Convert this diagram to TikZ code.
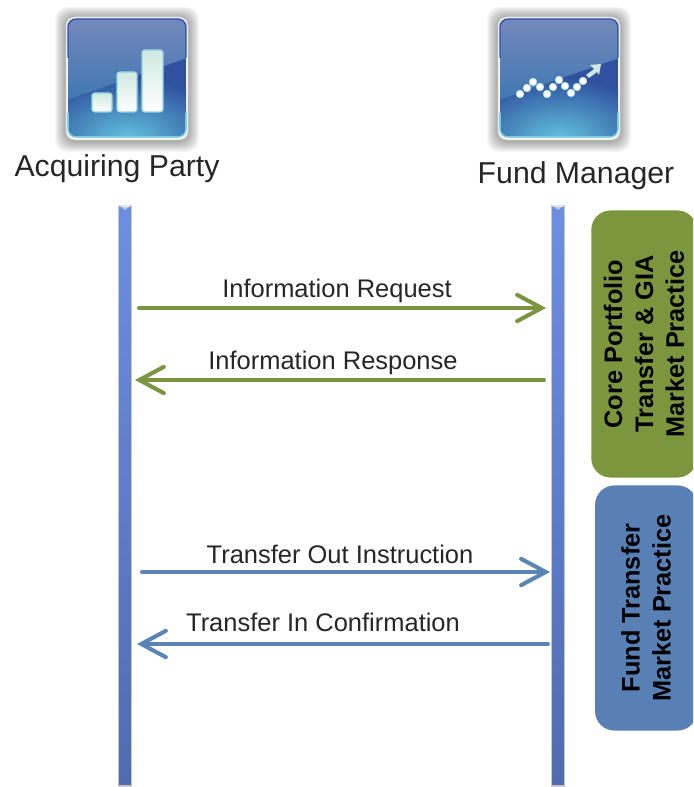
\documentclass[tikz,border=0pt]{standalone}
\usepackage{fontspec}
\setmainfont{Liberation Sans}
\usetikzlibrary{arrows.meta}
\usetikzlibrary{positioning}
\definecolor{msgGreen}{HTML}{7A9440}
\definecolor{msgBlue}{HTML}{5A84B6}
\definecolor{boxGreen}{HTML}{7C963E}
\definecolor{boxBlue}{HTML}{5880B4}
\definecolor{lineTop}{HTML}{6C8EE4}
\definecolor{lineBot}{HTML}{4F6CB0}
\definecolor{iconDark}{HTML}{2F519F}
\definecolor{iconMid}{HTML}{3F78B0}
\definecolor{iconTop}{HTML}{7488BC}
\definecolor{iconGlow}{HTML}{62C2DC}
\definecolor{barTop}{HTML}{CFE8E0}

\begin{document}
\begin{tikzpicture}[x=0.02cm,y=-0.02cm]
  \tikzset{lifeline/.style = {shape=rectangle,draw=gray!45,line width=0.7pt,minimum width=7.4pt,minimum height=330pt,inner sep=0pt,top color=lineTop,bottom color=lineBot}}
  \tikzset{title/.style = {text=black!85,font=\fontsize{17.2}{20}\selectfont,inner sep=0pt}}
  \tikzset{msglabel/.style = {text=black!85,font=\fontsize{14.5}{17}\selectfont,inner sep=0pt}}
  \tikzset{practice/.style = {shape=rectangle,rounded corners=11pt,rotate=90,align=center,inner sep=0pt,text=black,font=\bfseries\fontsize{14.4}{17.6}\selectfont}}
  \tikzset{bar/.style = {rounded corners=1.5pt,draw=iconGlow!70,line width=0.6pt,top color=barTop,bottom color=white}}
  \tikzset{dot/.style = {shape=circle,fill=white,draw=iconGlow!60,line width=0.3pt,minimum size=4.4pt,inner sep=0pt}}
  \tikzset{greenmsg/.style = {draw=msgGreen,line width=2.3pt,line cap=round,-{Straight Barb[length=14pt,width=15pt,line cap=round]}}}
  \tikzset{bluemsg/.style = {draw=msgBlue,line width=2.3pt,line cap=round,-{Straight Barb[length=14pt,width=15pt,line cap=round]}}}
  \tikzset{
    iconbase/.pic = {
      \foreach \grow in {1,2,...,12}
        \fill[black,opacity=0.035,rounded corners=7pt] (-60-\grow,-60-\grow+1) rectangle (60+\grow,60+\grow+2);
      \fill[white,draw=gray!40,line width=0.4pt,rounded corners=5pt] (-61,-61) rectangle (61,62);
      \begin{scope}
        \clip[rounded corners=4.5pt] (-59,-59) rectangle (59,59);
        \fill[iconDark] (-60,-60) rectangle (60,60);
        \shade[inner color=iconGlow,outer color=iconDark] (0,60) ellipse (100 and 60);
        \shade[top color=iconTop,bottom color=iconMid] (-60,-60) -- (60,-60) -- (60,-20) -- (-60,22) -- cycle;
      \end{scope}
      \draw[iconDark,line width=0.8pt,rounded corners=4.5pt] (-59,-20) -- (-59,-59) -- (59,-59) -- (59,-20);
      \draw[iconGlow!80!white,line width=0.9pt,rounded corners=4.5pt] (-59,35) -- (-59,59) -- (59,59) -- (59,35);
    }
  }
  \clip (0,0) rectangle (693,787);

  % actors
  \pic at (127,78) {iconbase};
  \pic at (559,78) {iconbase};
  \draw[bar] (92,93) rectangle (112,112);
  \draw[bar] (117,72) rectangle (137,112);
  \draw[bar] (142,50) rectangle (163,112);
  \foreach \name/\px/\py in {a/520/94,b/527/88,c/533/82,d/540/87,e/547/94,f/553/87,g/559/80,h/565/86,i/571/93,j/577/87,k/583/81}
    \node[dot] (\name) at (\px,\py) {};
  \fill[barTop] (601,64) -- (590,65) -- (594,69) -- (586,75) -- (589,78) -- (597,72) -- (599,75) -- cycle;

  \node[title] (AP) at (117,169) {Acquiring Party};
  \node[title] (FM) at (576,176) {Fund Manager};

  % lifelines
  \node[lifeline] (L) at (125,496) {};
  \node[lifeline] (R) at (558,496) {};
  \fill[white,opacity=0.55] (119,205) -- (131,205) -- (125,210) -- cycle;
  \fill[white,opacity=0.55] (552,205) -- (564,205) -- (558,210) -- cycle;

  % message ends
  \coordinate (IRa) at (139,308);
  \coordinate (IRb) at (546,308);
  \coordinate (ISa) at (544,380);
  \coordinate (ISb) at (135,380);
  \coordinate (TOa) at (142,572);
  \coordinate (TOb) at (550,572);
  \coordinate (TIa) at (548,644);
  \coordinate (TIb) at (137,644);

  \foreach \from/\to in {IRa/IRb, ISa/ISb}
    \draw[greenmsg](\from) -- (\to);

  \foreach \from/\to in {TOa/TOb, TIa/TIb}
    \draw[bluemsg](\from) -- (\to);

  \node[msglabel] (IRl) at (337,291) {Information Request};
  \node[msglabel] (ISl) at (333,363) {Information Response};
  \node[msglabel] (TOl) at (340,554) {Transfer Out Instruction};
  \node[msglabel] (TIl) at (323,622) {Transfer In Confirmation};

  % market practice boxes
  \node[practice,fill=boxGreen,minimum width=152pt,minimum height=60pt] (CP) at (644,344) {Core Portfolio\\Transfer \& GIA\\Market Practice};
  \node[practice,fill=boxBlue,minimum width=139.5pt,minimum height=58pt] (FT) at (646,608) {Fund Transfer\\Market Practice};

\end{tikzpicture}
\end{document}
